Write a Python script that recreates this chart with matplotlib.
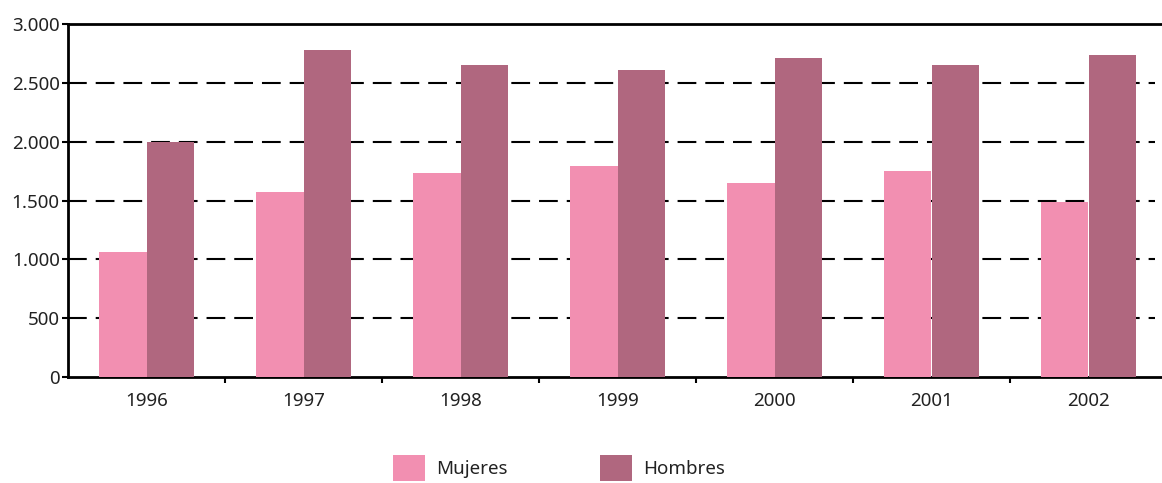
import matplotlib
matplotlib.use("Agg")
import matplotlib.pyplot as plt
import numpy as np

years = ["1996", "1997", "1998", "1999", "2000", "2001", "2002"]
mujeres = [1062, 1572, 1734, 1793, 1649, 1751, 1487]
hombres = [1997, 2779, 2651, 2609, 2711, 2651, 2736]
yticks = [0, 500, 1000, 1500, 2000, 2500, 3000]
ytick_labels = ["0", "500", "1.000", "1.500", "2.000", "2.500", "3.000"]

c_muj = "#F28FB1"
c_hom = "#B0677F"
txt = "#222222"

plt.rcParams["font.family"] = ["Noto Sans", "DejaVu Sans"]
plt.rcParams["font.weight"] = "light"

fig = plt.figure(figsize=(11.62, 4.83), dpi=100)
ax = fig.add_axes([68 / 1162, (483 - 377) / 483, 1 - 68 / 1162, (377 - 24.3) / 483])

x = np.arange(len(years))
w = 0.3
ax.bar(x - w / 2, mujeres, width=w, color=c_muj, zorder=3, label="Mujeres")
ax.bar(x + w / 2, hombres, width=w, color=c_hom, zorder=3, label="Hombres")

for yv in yticks[1:-1]:
    ax.axhline(yv, xmin=0, xmax=(1155 - 68) / (1162 - 68), color="black", lw=1.5,
               dashes=(9.0, 4.3), zorder=1)

ax.set_xlim(-0.5, -0.5 + (1162 - 68) / 157)
ax.set_ylim(0, 3000)

fs = 13.5
ax.set_yticks(yticks)
ax.set_yticklabels(ytick_labels)
ax.tick_params(axis="y", length=4, width=1.5, pad=2, labelsize=fs, labelcolor=txt, color="black")

ax.set_xticks(x)
ax.set_xticklabels(years)
ax.tick_params(axis="x", which="major", length=0, pad=11, labelsize=fs, labelcolor=txt)
ax.set_xticks(x[:-1] + 0.5, minor=True)
ax.tick_params(axis="x", which="minor", length=4, width=1.5, color="black")

for s in ["left", "bottom", "top"]:
    ax.spines[s].set_linewidth(2)
    ax.spines[s].set_color("black")
ax.spines["right"].set_visible(False)

leg = ax.legend(loc="center", bbox_to_anchor=(559 / 1162, (483 - 468) / 483),
                bbox_transform=fig.transFigure, ncol=2, frameon=False,
                handlelength=1.7, handleheight=1.7, handletextpad=0.6,
                columnspacing=4.9, fontsize=fs, borderpad=0, borderaxespad=0)
for t in leg.get_texts():
    t.set_color(txt)

fig.savefig("out.png", dpi=100)
